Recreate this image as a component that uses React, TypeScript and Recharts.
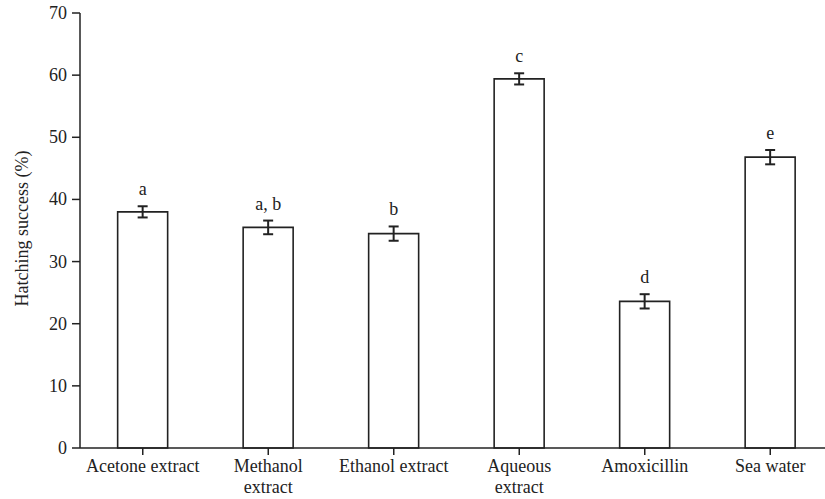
import { BarChart, Bar, XAxis, YAxis, ErrorBar, LabelList, Label } from "recharts";

const categories = [
  "Acetone extract",
  "Methanol\nextract",
  "Ethanol extract",
  "Aqueous\nextract",
  "Amoxicillin",
  "Sea water",
];
const hatching = [38.0, 35.5, 34.5, 59.4, 23.6, 46.8];
const errors = [0.9, 1.1, 1.15, 0.9, 1.15, 1.15];
const letters = ["a", "a, b", "b", "c", "d", "e"];
const yTicks = [0, 10, 20, 30, 40, 50, 60, 70];

const data = categories.map((name, i) => ({
  name,
  value: hatching[i],
  err: errors[i],
  letter: letters[i],
}));

const FONT = "Liberation Serif";
const INK = "#222";

const CategoryTick = (props: any) => {
  const { x, y, payload } = props;
  const lines = String(payload.value).split("\n");
  return (
    <text
      x={x}
      y={y + 15}
      textAnchor="middle"
      fontFamily={FONT}
      fontSize={18}
      fill={INK}
    >
      {lines.map((line, i) => (
        <tspan key={i} x={x} dy={i === 0 ? 0 : 21}>
          {line}
        </tspan>
      ))}
    </text>
  );
};

const NumberTick = (props: any) => {
  const { x, y, payload } = props;
  return (
    <text
      x={x}
      y={y + 6}
      textAnchor="end"
      fontFamily={FONT}
      fontSize={18}
      fill={INK}
    >
      {payload.value}
    </text>
  );
};

const LetterLabel = (props: any) => {
  const { x, y, width, height, index } = props;
  const d = data[index];
  // pixels per unit taken from the bar itself
  const errPx = (d.err * height) / d.value;
  return (
    <text
      x={x + width / 2}
      y={y - errPx - 11}
      textAnchor="middle"
      fontFamily={FONT}
      fontSize={18}
      fill={INK}
    >
      {d.letter}
    </text>
  );
};

const YTitle = (props: any) => {
  const { viewBox } = props;
  const cy = viewBox.y + viewBox.height / 2 - 2;
  return (
    <text
      x={28}
      y={cy}
      transform={`rotate(-90, 28, ${cy})`}
      textAnchor="middle"
      fontFamily={FONT}
      fontSize={18}
      fill={INK}
    >
      Hatching success (%)
    </text>
  );
};

export default function App() {
  return (
    <div
      style={{
        position: "absolute",
        left: 0,
        top: 0,
        width: 825,
        height: 499,
        overflow: "hidden",
        background: "#fff",
      }}
    >
      <BarChart
        width={840}
        height={499}
        data={data}
        margin={{ top: 13, right: 7, bottom: 0, left: 0 }}
        barCategoryGap="30%"
        style={{ overflow: "visible" }}
      >
        <XAxis
          dataKey="name"
          height={51}
          interval={0}
          axisLine={{ stroke: INK, strokeWidth: 1.5 }}
          tickLine={{ stroke: INK, strokeWidth: 1.5 }}
          tickSize={7}
          tick={<CategoryTick />}
        />
        <YAxis
          width={80}
          domain={[0, 70]}
          ticks={yTicks}
          interval={0}
          axisLine={{ stroke: INK, strokeWidth: 1.5 }}
          tickLine={{ stroke: INK, strokeWidth: 1.5 }}
          tickSize={8}
          tickMargin={5}
          tick={<NumberTick />}
        >
          <Label content={<YTitle />} />
        </YAxis>
        <Bar
          dataKey="value"
          fill="#fff"
          stroke={INK}
          strokeWidth={1.6}
          isAnimationActive={false}
        >
          <ErrorBar
            dataKey="err"
            width={5}
            stroke={INK}
            strokeWidth={2}
            direction="y"
          />
          <LabelList dataKey="letter" content={<LetterLabel />} />
        </Bar>
      </BarChart>
    </div>
  );
}
